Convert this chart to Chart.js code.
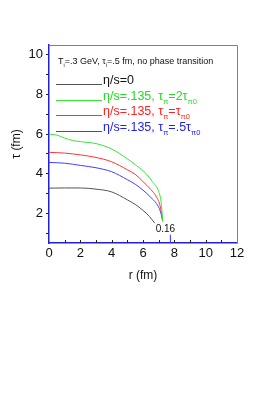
<!DOCTYPE html>
<html>
<head>
<meta charset="utf-8">
<script src="https://cdn.jsdelivr.net/npm/chart.js@4"></script>
<style>
  html, body { margin: 0; padding: 0; background: #fff; }
  canvas { display: block; }
</style>
</head>
<body>
<canvas id="chart" width="276" height="395"></canvas>
<script>
// ===== DATA =====
const rBlack = [0, 1, 2, 3, 4, 5, 5.5, 6, 6.4, 6.75];
const tauBlack = [3.27, 3.28, 3.28, 3.22, 3.08, 2.68, 2.45, 2.15, 1.85, 1.5];

const rGreen = [0, 0.5, 1, 1.5, 2, 3, 4, 5, 5.6, 6.2, 6.6, 7.0, 7.15, 7.26];
const tauGreen = [6.0, 5.95, 5.8, 5.68, 5.62, 5.52, 5.25, 4.75, 4.4, 4.0, 3.6, 3.1, 2.6, 1.6];

const rRed = [0, 1, 2, 3, 4, 5, 5.5, 6, 6.5, 6.86, 7.1, 7.26];
const tauRed = [5.08, 5.04, 4.95, 4.82, 4.6, 4.2, 3.97, 3.6, 3.2, 2.83, 2.35, 1.6];

const rBlue = [0, 1, 2, 3, 4, 5, 5.5, 6, 6.5, 6.86, 7.1, 7.26];
const tauBlue = [4.57, 4.53, 4.42, 4.3, 4.1, 3.7, 3.47, 3.17, 2.8, 2.49, 2.12, 1.6];

const xTicks = [0, 2, 4, 6, 8, 10, 12];
const yTicks = [2, 4, 6, 8, 10];
const yMinor = [1, 2, 3, 4, 5, 6, 7, 8, 9, 10];

const titleParts = [["T", 0], ["i", 1], ["=.3 GeV, τ", 0], ["i", 1], ["=.5 fm, no phase transition", 0]];
const legendParts = [
    [["η/s=0", 0]],
    [["η/s=.135, τ", 0], ["π", 1], ["=2τ", 0], ["π0", 1]],
    [["η/s=.135, τ", 0], ["π", 1], ["=τ", 0], ["π0", 1]],
    [["η/s=.135, τ", 0], ["π", 1], ["=.5τ", 0], ["π0", 1]]
];
const lineColors = ["#555555", "#33e833", "#ff3333", "#4040ff"];
const textColors = ["#111111", "#22dd22", "#ff2222", "#2222ee"];

const markText = "0.16";
const markR = 7.62;
const markTau = 1.02;

const FONT = "'Liberation Sans', Arial, sans-serif";

function pts(xs, ys) {
    return xs.map((x, i) => ({ x: x, y: ys[i] }));
}

// ===== RICH TEXT (subscripts) =====
function drawParts(ctx, parts, x, y, size, color) {
    ctx.fillStyle = color;
    ctx.textBaseline = "alphabetic";
    ctx.textAlign = "left";
    parts.forEach(p => {
        if (p[1]) {
            ctx.font = (size * 0.6) + "px " + FONT;
            ctx.fillText(p[0], x, y + size * 0.28);
        } else {
            ctx.font = size + "px " + FONT;
            ctx.fillText(p[0], x, y);
        }
        x += ctx.measureText(p[0]).width;
    });
}

// ===== FRAME, LEGEND, MARK =====
const extras = {
    id: "extras",
    afterDatasetsDraw(chart) {
        const ctx = chart.ctx;
        const a = chart.chartArea;
        const xs = chart.scales.x;
        const ys = chart.scales.y;
        ctx.save();

        // top and right frame
        ctx.strokeStyle = "#7070ff";
        ctx.lineWidth = 1;
        ctx.beginPath();
        ctx.moveTo(a.left, a.top + 0.5);
        ctx.lineTo(a.right + 0.5, a.top + 0.5);
        ctx.lineTo(a.right + 0.5, a.bottom);
        ctx.stroke();

        // x ticks inward
        ctx.strokeStyle = "#222";
        ctx.beginPath();
        for (let v = 1; v < 12; v++) {
            const px = Math.round(xs.getPixelForValue(v)) + 0.5;
            ctx.moveTo(px, a.bottom);
            ctx.lineTo(px, a.bottom - 3);
        }
        ctx.stroke();

        // legend
        drawParts(ctx, titleParts, 58, 64, 9, "#111");
        const rowY = [84, 100, 115, 131];
        legendParts.forEach((parts, i) => {
            ctx.strokeStyle = lineColors[i];
            ctx.lineWidth = 1;
            ctx.beginPath();
            ctx.moveTo(56, rowY[i] + 0.5);
            ctx.lineTo(102, rowY[i] + 0.5);
            ctx.stroke();
            drawParts(ctx, parts, 103, rowY[i], 12.5, textColors[i]);
        });

        // 0.16 mark
        const mx = xs.getPixelForValue(markR);
        const my = ys.getPixelForValue(markTau);
        ctx.font = "10px " + FONT;
        ctx.fillStyle = "#111";
        ctx.textAlign = "center";
        ctx.textBaseline = "alphabetic";
        ctx.fillText(markText, mx - 3, my - 1);
        ctx.strokeStyle = "#3030ff";
        ctx.beginPath();
        ctx.moveTo(mx + 2, my + 2);
        ctx.lineTo(xs.getPixelForValue(7.75), a.bottom);
        ctx.stroke();

        ctx.restore();
    }
};

// ===== CHART =====
function makeSet(data, color) {
    return {
        data: data,
        borderColor: color,
        borderWidth: 1,
        pointRadius: 0,
        fill: false,
        tension: 0.4,
        cubicInterpolationMode: "monotone"
    };
}

new Chart(document.getElementById("chart"), {
    type: "line",
    data: {
        datasets: [
            makeSet(pts(rBlack, tauBlack), lineColors[0]),
            makeSet(pts(rGreen, tauGreen), lineColors[1]),
            makeSet(pts(rRed, tauRed), lineColors[2]),
            makeSet(pts(rBlue, tauBlue), lineColors[3])
        ]
    },
    options: {
        responsive: false,
        animation: false,
        layout: { padding: { top: 45, right: 39, left: 0, bottom: 112 } },
        plugins: { legend: { display: false }, tooltip: { enabled: false } },
        scales: {
            x: {
                type: "linear",
                min: 0,
                max: 12,
                ticks: {
                    stepSize: 1,
                    padding: 3,
                    maxRotation: 0,
                    autoSkip: false,
                    color: "#111",
                    font: { family: FONT, size: 13 },
                    callback: v => xTicks.includes(v) ? String(v) : ""
                },
                grid: { display: true, drawOnChartArea: false, drawTicks: false },
                border: { color: "#2020e0", width: 1.5 },
                title: {
                    display: true,
                    text: "r (fm)",
                    color: "#111",
                    font: { family: FONT, size: 12 },
                    padding: { top: 5, bottom: 0 }
                },
                afterFit: s => { s.height = 40; }
            },
            y: {
                type: "linear",
                min: 0.5,
                max: 10.5,
                afterBuildTicks: s => { s.ticks = yMinor.map(v => ({ value: v })); },
                ticks: {
                    padding: 3,
                    autoSkip: false,
                    color: "#111",
                    font: { family: FONT, size: 13 },
                    callback: v => yTicks.includes(v) ? String(v) : ""
                },
                grid: { display: true, drawOnChartArea: false, drawTicks: true, tickLength: 3, tickColor: "#222" },
                border: { color: "#2020e0", width: 1.5 },
                title: {
                    display: true,
                    text: "τ (fm)",
                    color: "#111",
                    font: { family: FONT, size: 12 },
                    padding: { top: 9, bottom: 6 }
                },
                afterFit: s => { s.width = 49; }
            }
        }
    },
    plugins: [extras]
});
</script>
</body>
</html>
